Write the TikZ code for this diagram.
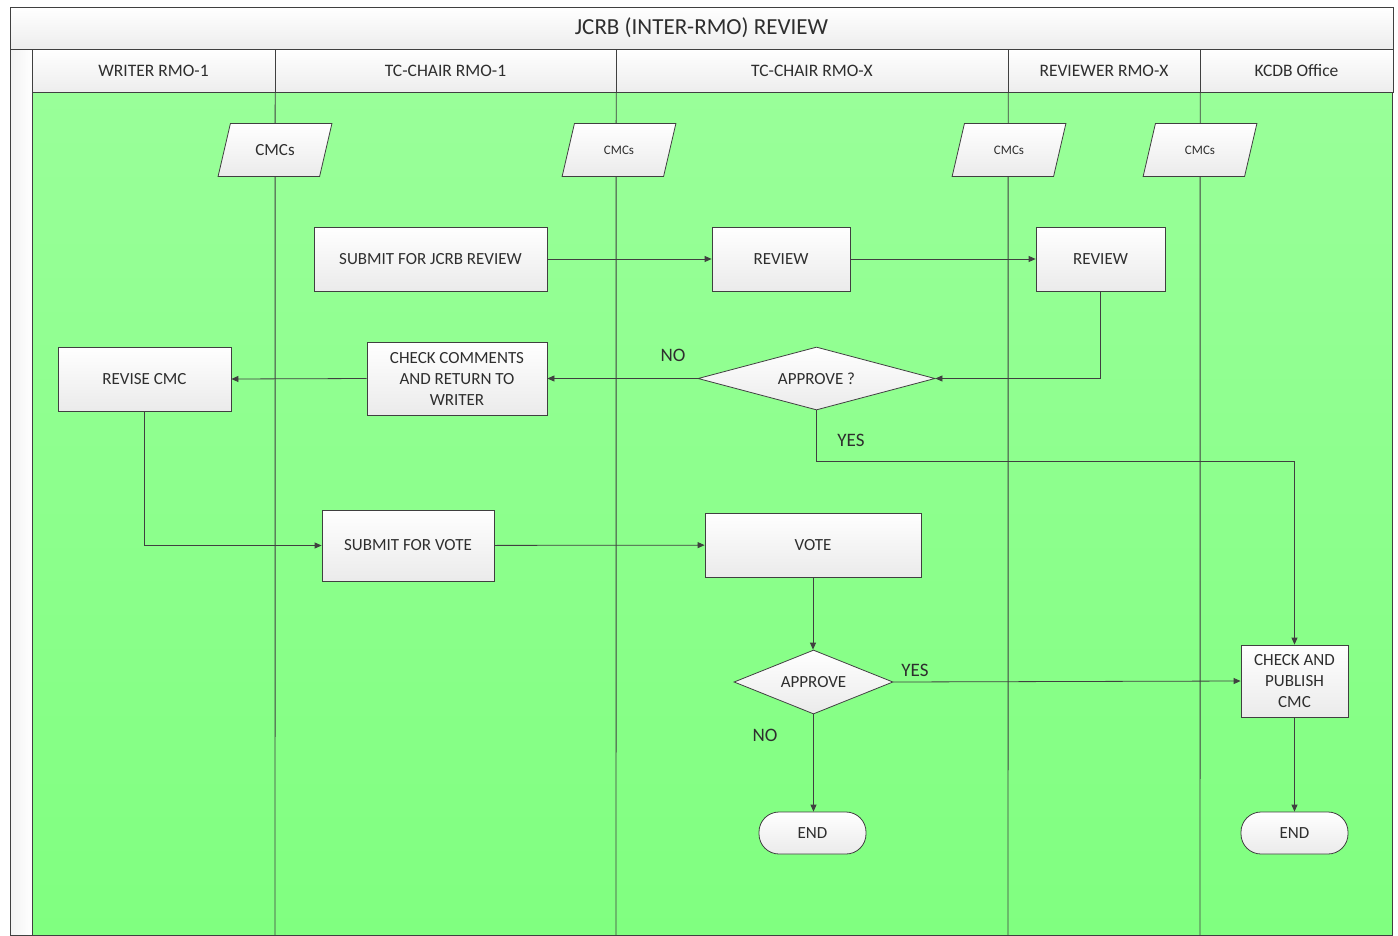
\documentclass[tikz,border=0pt]{standalone}
\usepackage{fontspec}
\setmainfont{Carlito}
\usetikzlibrary{shapes.geometric,arrows.meta}
\definecolor{ln}{HTML}{404040}
\definecolor{txt}{HTML}{2E2E2E}
\definecolor{gtop}{HTML}{99FF99}
\definecolor{gbot}{HTML}{80FF80}
\begin{document}
\begin{tikzpicture}[x=1pt,y=-1pt,
  hdr/.style={draw=ln, top color=white, bottom color=black!7, text=txt, inner sep=0pt, font=\fontsize{17.5}{21}\selectfont},
  box/.style={draw=ln, line width=0.8pt, top color=white, bottom color=black!8, text=txt, align=center, inner sep=0pt, font=\fontsize{17}{21}\selectfont},
  data/.style={box, trapezium, trapezium left angle=64, trapezium right angle=116, trapezium stretches=true, minimum width=114pt, minimum height=53pt},
  dec/.style={box, diamond, inner sep=0pt},
  term/.style={box, rounded corners=20pt, minimum width=107pt, minimum height=42pt},
  arr/.style={draw=ln, line width=0.8pt, -{Triangle[length=7pt,width=6pt]}},
  lbl/.style={text=txt, font=\fontsize{19}{22}\selectfont, inner sep=0pt},
  lane/.style={draw=ln, line width=0.9pt}]
\useasboundingbox (0,0) rectangle (1398,935);
% frame
\node[hdr, minimum width=1383pt, minimum height=42pt, font=\fontsize{23}{26}\selectfont] (title) at (701.5,28) {JCRB (INTER-RMO) REVIEW};
\path[draw=ln, left color=black!5, right color=white] (10,49) rectangle (32,935);
\path[draw=ln, top color=gtop, bottom color=gbot] (32,92) rectangle (1392,935);
\node[hdr, minimum width=243pt, minimum height=43pt] (h1) at (153.5,70.5) {WRITER RMO-1};
\node[hdr, minimum width=341pt, minimum height=43pt] (h2) at (445.5,70.5) {TC-CHAIR RMO-1};
\node[hdr, minimum width=392pt, minimum height=43pt] (h3) at (812,70.5) {TC-CHAIR RMO-X};
\node[hdr, minimum width=192pt, minimum height=43pt] (h4) at (1104,70.5) {REVIEWER RMO-X};
\node[hdr, minimum width=193pt, minimum height=43pt] (h5) at (1296.5,70.5) {KCDB Office};
% lane lines
\draw[lane] (h1.south east) -- (275,935);
\draw[lane] (h2.south east) -- (616,935);
\draw[lane] (h3.south east) -- (1008,935);
\draw[lane] (h4.south east) -- (1200,935);
% data nodes
\node[data, font=\fontsize{17}{20}\selectfont] (d1) at (275,150) {CMCs};
\node[data, font=\fontsize{13}{16}\selectfont] (d2) at (619,150) {CMCs};
\node[data, font=\fontsize{13}{16}\selectfont] (d3) at (1009,150) {CMCs};
\node[data, font=\fontsize{13}{16}\selectfont] (d4) at (1200,150) {CMCs};
% process nodes
\node[box, minimum width=233pt, minimum height=64pt] (sub) at (430.5,259) {SUBMIT FOR JCRB REVIEW};
\node[box, minimum width=138pt, minimum height=64pt] (rv1) at (781,259) {REVIEW};
\node[box, minimum width=129pt, minimum height=64pt] (rv2) at (1100.5,259) {REVIEW};
\node[box, minimum width=173pt, minimum height=64pt] (rev) at (144.5,379) {REVISE CMC};
\node[box, minimum width=180pt, minimum height=73pt] (chk) at (457,378.5) {CHECK COMMENTS\\AND RETURN TO\\WRITER};
\node[dec, shape aspect=3.76, minimum width=237pt, minimum height=63pt] (ap1) at (816.5,378.5) {APPROVE ?};
\node[dec, shape aspect=2.48, minimum width=159pt, minimum height=64pt] (ap2) at (813.5,682) {APPROVE};
\node[box, minimum width=172pt, minimum height=71pt] (sv) at (408,545.5) {SUBMIT FOR VOTE};
\node[box, minimum width=216pt, minimum height=64pt] (vote) at (813,545) {VOTE};
\node[box, minimum width=107pt, minimum height=72pt] (pub) at (1294.5,681) {CHECK AND\\PUBLISH\\CMC};
\node[term] (end1) at (812.5,833) {END};
\node[term] (end2) at (1294.5,833) {END};
% connectors
\coordinate (yc) at (816.5,461);
\draw[arr] (sub) -- (rv1);
\draw[arr] (rv1) -- (rv2);
\draw[arr] (rv2.south) |- (ap1.east);
\draw[arr] (ap1.west) -- (chk.east);
\draw[arr] (chk.west) -- (rev.east);
\draw[arr] (ap1.south) -- (yc) -| (pub.north);
\draw[arr] (rev.south) |- (sv.west);
\draw[arr] (sv) -- (vote);
\draw[arr] (vote.south) -- (vote.south |- ap2.north);
\draw[arr] (ap2.east) -- (pub.west);
\draw[arr] (ap2.south) -- (ap2.south |- end1.north);
\draw[arr] (pub.south) -- (end2.north);
% labels
\node[lbl] (no1) at (673,355) {NO};
\node[lbl] (yes1) at (851,440) {YES};
\node[lbl] (yes2) at (915,670) {YES};
\node[lbl] (no2) at (765,735) {NO};
\end{tikzpicture}
\end{document}
